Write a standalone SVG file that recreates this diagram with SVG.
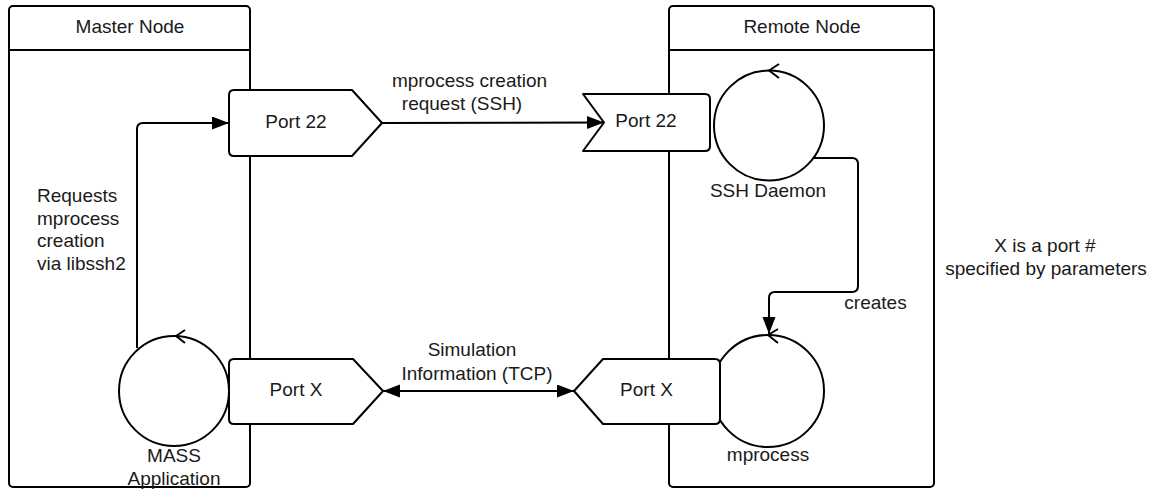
<svg xmlns="http://www.w3.org/2000/svg" width="1152" height="489" viewBox="0 0 1152 489">
<style>
.s{fill:none;stroke:#000;stroke-width:2;stroke-linejoin:round}
.f{fill:#fff;stroke:#000;stroke-width:2;stroke-linejoin:round}
text{font-family:"Liberation Sans",Arial,sans-serif;font-size:19px;fill:#1a1a1a}
.c{text-anchor:middle}
</style>
<defs>
<marker id="ah" markerUnits="userSpaceOnUse" markerWidth="18" markerHeight="14" refX="17" refY="6.5" orient="auto-start-reverse">
<path d="M0,0 L17,6.5 L0,13 Z" fill="#000"/>
</marker>
</defs>
<rect width="1152" height="489" fill="#fff"/>
<g id="master-node">
<rect class="f" x="9" y="6" width="241" height="481" rx="4"/>
<line class="s" x1="9" y1="50" x2="250" y2="50"/>
<text class="c" x="130" y="33">Master Node</text>
</g>
<g id="remote-node">
<rect class="f" x="669" y="6" width="265" height="481" rx="4"/>
<line class="s" x1="669" y1="50" x2="934" y2="50"/>
<text class="c" x="802" y="33">Remote Node</text>
</g>
<g id="connectors">
<path class="s" d="M137,348 L137,129 Q137,123 143,123 L229,123" marker-end="url(#ah)"/>
<path class="s" d="M382,123 L604,122.5" marker-end="url(#ah)"/>
<path class="s" d="M814,158 L852,158 Q858,158 858,164 L858,286 Q858,292 852,292 L775,292 Q769,292 769,298 L769,334" marker-end="url(#ah)"/>
<path class="s" d="M383,391 L574,391" marker-start="url(#ah)" marker-end="url(#ah)"/>
</g>
<g id="mass-application">
<circle class="f" cx="174" cy="391" r="55"/>
<path class="s" d="M185,330 L176,336 L185,343"/>
<text class="c" x="174" y="462">MASS</text>
<text class="c" x="174" y="485">Application</text>
</g>
<g id="ssh-daemon">
<circle class="f" cx="769" cy="125.5" r="55"/>
<path class="s" d="M779,64 L769,70.5 L779,78"/>
<text class="c" x="768" y="197">SSH Daemon</text>
</g>
<g id="mprocess">
<circle class="f" cx="768" cy="391" r="56"/>
<path class="s" d="M778,329 L768,335 L778,343"/>
<text class="c" x="768" y="461">mprocess</text>
</g>
<g id="master-port-22">
<path class="f" d="M229,95 Q229,90 234,90 L352,90 L382,123 L352,156 L234,156 Q229,156 229,151 Z"/>
<text class="c" x="296" y="128">Port 22</text>
</g>
<g id="remote-port-22">
<path class="f" d="M583,94 L705,94 Q710,94 710,99 L710,146 Q710,151 705,151 L583,151 L604,122.5 Z"/>
<text class="c" x="646" y="127">Port 22</text>
</g>
<g id="master-port-x">
<path class="f" d="M229,364 Q229,359 234,359 L353,359 L383,391 L353,424 L234,424 Q229,424 229,419 Z"/>
<text class="c" x="296" y="396">Port X</text>
</g>
<g id="remote-port-x">
<path class="f" d="M574,391 L603,359 L715,359 Q720,359 720,364 L720,419 Q720,424 715,424 L603,424 Z"/>
<text class="c" x="646.5" y="396">Port X</text>
</g>
<g id="labels">
<text x="37" y="202">Requests</text>
<text x="37" y="224.5">mprocess</text>
<text x="37" y="247">creation</text>
<text x="37" y="269.5">via libssh2</text>
<text class="c" x="469.5" y="87">mprocess creation</text>
<text class="c" x="462" y="110">request (SSH)</text>
<text class="c" x="472" y="356">Simulation</text>
<text class="c" x="477" y="380">Information (TCP)</text>
<text class="c" x="875.5" y="309">creates</text>
<text class="c" x="1045" y="252">X is a port #</text>
<text class="c" x="1046" y="275">specified by parameters</text>
</g>
</svg>
